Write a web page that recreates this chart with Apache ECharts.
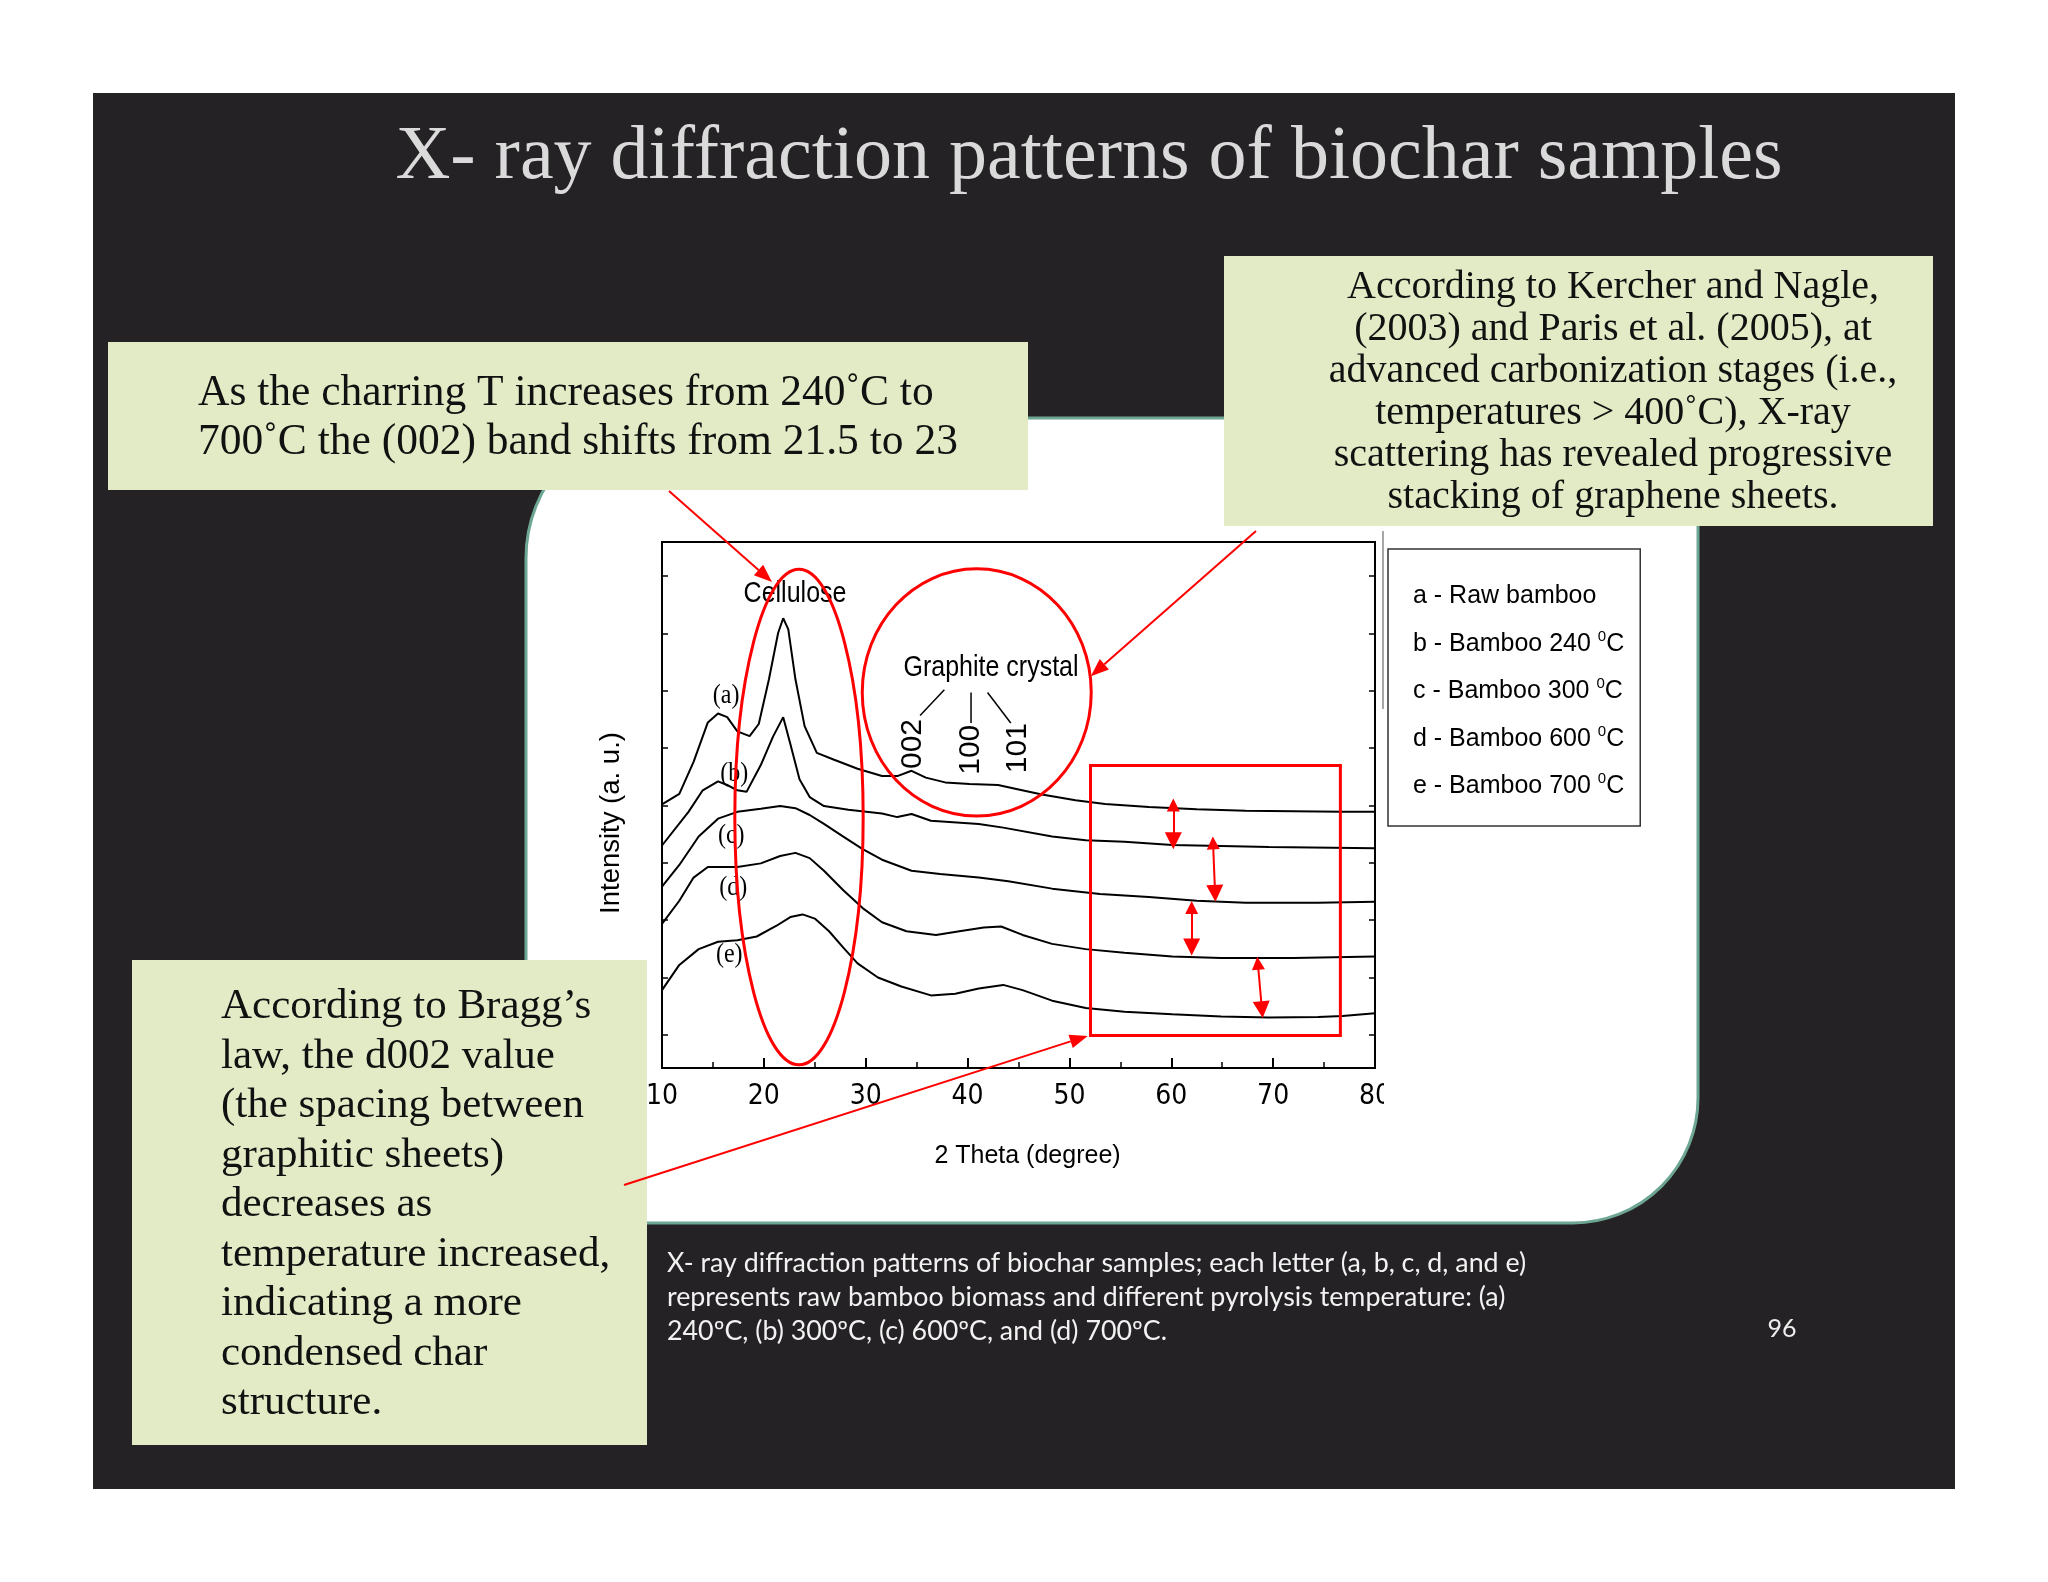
<!DOCTYPE html>
<html><head><meta charset="utf-8">
<script src="https://cdn.jsdelivr.net/npm/echarts@6.0.0/dist/echarts.min.js"></script>
<style>html,body{margin:0;padding:0;background:#fff}#c{width:2048px;height:1582px}</style>
</head><body><div id="c"></div>
<script>
// ---------- data ----------
const aTheta = [10,11.7,13.1,14.5,15.5,16.4,17.4,18.6,19.5,20.5,21.4,21.9,22.4,23.1,24.0,25.2,26.9,29.2,31.6,33.1,34.5,35.9,37.8,40.2,43.0,44.9,47.3,50.6,53.5,57.8,62.5,67.3,72.0,76.8,80];
const aInt   = [50.1,52.1,58.2,65.7,67.4,66.7,64.0,63.1,65.4,73.9,82.7,85.5,83.4,73.9,65.0,59.9,58.6,56.9,55.5,55.5,56.5,55.2,54.3,54.0,53.8,53.0,52.0,50.9,50.2,49.6,49.2,48.9,48.8,48.7,48.7];
const bTheta = [10,12.6,14.0,15.5,16.4,17.4,18.3,19.7,20.9,21.9,22.6,23.5,24.5,25.9,28.3,31.6,33.1,34.5,36.4,41.1,43.5,48.3,51.6,55.4,60.1,64.9,69.6,80];
const bInt   = [42.3,48.7,52.8,54.5,53.8,52.8,52.5,57.6,63.0,66.7,61.6,54.9,51.5,49.8,49.1,48.4,47.7,48.3,47.0,46.4,45.7,44.0,43.3,43.0,42.4,42.2,42.0,41.8];
const cTheta = [10,11.7,13.6,15.5,17.4,19.7,21.6,23.1,24.5,25.9,27.8,29.7,31.6,34.5,37.3,41.1,44.0,48.3,53.0,57.8,62.5,67.3,74.4,80];
const cInt   = [34.5,38.6,44.0,47.4,48.7,49.3,49.8,49.4,48.1,46.4,44.0,41.6,39.6,37.5,36.9,36.2,35.5,34.1,33.1,32.5,31.8,31.4,31.4,31.6];
const dTheta = [10,11.7,13.1,14.5,15.9,17.4,19.7,21.6,23.1,24.5,25.9,27.8,29.7,31.6,34.0,36.9,39.2,41.6,43.3,45.4,48.3,51.6,55.4,60.1,64.9,72.0,80];
const dInt   = [27.4,31.8,36.2,38.2,38.2,38.2,38.9,40.3,40.9,39.9,37.5,33.8,30.4,27.7,26.0,25.3,26.0,26.7,26.9,25.3,23.6,22.6,21.9,21.2,20.9,20.9,21.2];
const eTheta = [10,11.7,13.6,15.5,17.4,19.3,21.2,22.6,23.8,25.0,26.4,27.8,29.2,31.2,33.5,36.4,38.8,41.1,43.5,45.4,48.3,51.6,55.4,60.1,64.9,69.6,74.4,76.8,80];
const eInt   = [14.8,19.6,22.6,24.0,24.3,25.0,27.0,28.7,29.2,28.4,26.0,22.9,19.9,17.2,15.5,13.8,14.1,15.1,15.8,14.8,12.8,11.4,10.7,10.2,9.8,9.6,9.7,9.9,10.4];

const seriesNames = ['a','b','c','d','e'];
const curveLabels = ['(a)','(b)','(c)','(d)','(e)'];
const curveLabelPos = [[16.3,70.7],[17.1,55.9],[16.8,44.1],[17.0,34.2],[16.6,21.5]];
const legendLabels = ['a - Raw bamboo','b - Bamboo 240 ','c - Bamboo 300 ','d - Bamboo 600 ','e - Bamboo 700 '];
const xTickLabels = ['10','20','30','40','50','60','70','80'];
const yTickValues = [6.3,17.2,28.1,39.0,49.9,60.8,71.7,82.6,93.5];

// annotation anchors in data units
const celluloseEllipse = {cx:23.45, cy:47.7, rx:6.3, ry:47.1};
const graphiteEllipse = {cx:40.9, cy:71.4, rx:11.24, ry:23.5};
const redBox = [[52.07,57.5],[76.6,6.2]];
const doubleArrows = [[[60.2,50.0],[60.2,43.2]],[[64.1,42.8],[64.3,33.2]],[[62.0,30.5],[62.0,23.0]],[[68.5,19.9],[68.9,11.1]]];
const peakLabels = [{t:'002',x:34.6,y:61.6},{t:'100',x:40.3,y:60.5},{t:'101',x:44.9,y:60.8}];
const peakLeaders = [[[37.72,71.9],[35.34,67.0]],[[40.34,71.4],[40.34,65.6]],[[41.96,71.4],[44.24,65.6]]];

const titleText = 'X- ray diffraction patterns of biochar samples';
const boxTL = ['As the charring T increases from 240˚C to','700˚C the (002) band shifts from 21.5 to 23'];
const boxTR = ['According to Kercher and Nagle,','(2003) and Paris et al. (2005), at','advanced carbonization stages (i.e.,','temperatures > 400˚C), X-ray','scattering has revealed progressive','stacking of graphene sheets.'];
const boxBL = ['According to Bragg’s','law, the d002 value','(the spacing between','graphitic sheets)','decreases as','temperature increased,','indicating a more','condensed char','structure.'];
const caption = ['X- ray diffraction patterns of biochar samples; each letter (a, b, c, d, and e)','represents raw bamboo biomass and different pyrolysis temperature: (a)','240ºC, (b) 300ºC, (c) 600ºC, and (d) 700ºC.'];

// ---------- chart ----------
const NARROW = '"Liberation Sans Narrow","Arial Narrow","DejaVu Sans Condensed","Liberation Sans",sans-serif';
const SANS = '"Liberation Sans",Arial,sans-serif';
const SERIF = '"Liberation Serif","Times New Roman",serif';
const CAP = 'Lato,"Open Sans",sans-serif';

const curves = [[aTheta,aInt],[bTheta,bInt],[cTheta,cInt],[dTheta,dInt],[eTheta,eInt]];
const chart = echarts.init(document.getElementById('c'), null, {renderer:'canvas', width:2048, height:1582});

const yAxisBase = {
  type:'value', min:0, max:100,
  axisLine:{show:true, lineStyle:{color:'#000', width:2}},
  axisTick:{show:true, inside:true, length:6, customValues:yTickValues, lineStyle:{color:'#000', width:1.5}},
  axisLabel:{show:false}, splitLine:{show:false}
};

const option = {
  backgroundColor:'#ffffff',
  animation:false,
  grid:{left:662, top:542, width:713, height:526, show:true, borderColor:'#000', borderWidth:2, backgroundColor:'transparent'},
  xAxis:{
    type:'value', min:10, max:80, interval:10,
    axisLine:{lineStyle:{color:'#000', width:2}},
    axisTick:{inside:true, length:10, lineStyle:{color:'#000', width:2}},
    minorTick:{show:true, splitNumber:2, length:6, lineStyle:{color:'#000', width:1.5}},
    splitLine:{show:false}, minorSplitLine:{show:false},
    axisLabel:{color:'#000', fontSize:28, fontFamily:NARROW, margin:15,
      formatter:(v)=>xTickLabels[Math.round((v-10)/10)]},
    name:'2 Theta (degree)', nameLocation:'middle', nameGap:76,
    nameTextStyle:{color:'#000', fontSize:25, fontFamily:SANS, padding:[0,0,0,18]}
  },
  yAxis:[
    Object.assign({}, yAxisBase, {position:'left'}),
    Object.assign({}, yAxisBase, {position:'right'})
  ],
  legend:{
    orient:'vertical', left:1388, top:549, icon:'none', itemWidth:0, itemHeight:0, itemGap:20,
    padding:[35,16,27,20], borderColor:'#333', borderWidth:1.5, selectedMode:false,
    data:seriesNames,
    formatter:(n)=>{ const i=seriesNames.indexOf(n); return i===0 ? '{n|'+legendLabels[0]+'}' : '{n|'+legendLabels[i]+'}{s|0}{n|C}'; },
    textStyle:{color:'#000', fontFamily:SANS, rich:{
      n:{fontSize:25, fontFamily:SANS, color:'#000', lineHeight:30},
      s:{fontSize:15, fontFamily:SANS, color:'#000', lineHeight:18, verticalAlign:'top'}
    }}
  },
  series: curves.map((c,i)=>({
    name:seriesNames[i], type:'line', xAxisIndex:0, yAxisIndex:0,
    data:c[0].map((x,k)=>[x,c[1][k]]),
    showSymbol:false, symbol:'none', smooth:false, z:3,
    lineStyle:{color:'#000', width:2}, itemStyle:{color:'#000'}
  })).concat([{
    type:'lines', coordinateSystem:'cartesian2d', xAxisIndex:0, yAxisIndex:0, z:6,
    symbol:['triangle','triangle'], symbolSize:[13,17],
    lineStyle:{color:'#ff0000', width:2, opacity:1}, itemStyle:{color:'#ff0000'},
    data: doubleArrows.map(a=>({coords:a}))
  }])
};
chart.setOption(option);

// ---------- decorations / annotations ----------
const P = (x,y)=>chart.convertToPixel({seriesIndex:0},[x,y]);
const pxPerX = P(20,0)[0]-P(10,0)[0];
const pxPerY = P(10,0)[1]-P(10,10)[1];

function txt(text, x, y, size, family, fill, align, vAlign, extra, el){
  return Object.assign({type:'text', z:11, x, y, style:Object.assign({text, x:0, y:0, fontSize:size, fontFamily:family, fill,
    align, verticalAlign:vAlign, textAlign:align, textVerticalAlign:vAlign}, extra||{})}, el||{});
}
function arrow(x1,y1,x2,y2){
  const dx=x2-x1, dy=y2-y1, L=Math.hypot(dx,dy), ux=dx/L, uy=dy/L, hl=18, hw=7;
  const bx=x2-ux*hl, by=y2-uy*hl;
  return [
    {type:'line', z:20, shape:{x1,y1,x2:bx,y2:by}, style:{stroke:'#ff0000', lineWidth:2}},
    {type:'polygon', z:20, shape:{points:[[x2,y2],[bx-uy*hw,by+ux*hw],[bx+uy*hw,by-ux*hw]]}, style:{fill:'#ff0000'}}
  ];
}

const g = [];
// slide background and white panel
g.push({type:'rect', z:-10, shape:{x:93,y:93,width:1862,height:1396}, style:{fill:'#242224'}});
g.push({type:'rect', z:-9, shape:{x:526,y:418,width:1172,height:805,r:[140,0,125,0]}, style:{fill:'#ffffff', stroke:'#6da692', lineWidth:3}});
// title
g.push(txt(titleText, 1089, 158, 76, SERIF, '#dadada', 'center', 'middle'));
// green boxes
g.push({type:'rect', z:10, shape:{x:108,y:342,width:920,height:148}, style:{fill:'#e2ebc5'}});
g.push(txt(boxTL.join('\n'), 198, 369.5, 43.5, SERIF, '#111', 'left', 'top', {lineHeight:48.7}));
g.push({type:'rect', z:10, shape:{x:1224,y:256,width:709,height:270}, style:{fill:'#e2ebc5'}});
g.push(txt(boxTR.join('\n'), 1613, 266.5, 40, SERIF, '#111', 'center', 'top', {lineHeight:42}));
g.push({type:'rect', z:10, shape:{x:132,y:960,width:515,height:485}, style:{fill:'#e2ebc5'}});
g.push(txt(boxBL.join('\n'), 221, 982, 43, SERIF, '#111', 'left', 'top', {lineHeight:49.5}));
// caption and page number
g.push(txt(caption.join('\n'), 667, 1246, 26.8, CAP, '#f2f2f2', 'left', 'top', {lineHeight:34}));
g.push(txt('96', 1782, 1329, 25, CAP, '#eeeeee', 'center', 'middle'));
// grey separator line at image edge + clip of "80"
g.push({type:'line', z:12, shape:{x1:1383,y1:531,x2:1383,y2:709}, style:{stroke:'#8a8a8a', lineWidth:1.5}});
g.push({type:'rect', z:12, shape:{x:1384,y:1074,width:12,height:42}, style:{fill:'#ffffff'}});
// y axis title
g.push(txt('Intensity (a. u.)', 611, 823, 27.5, SANS, '#000', 'center', 'middle', {}, {rotation:Math.PI/2}));

// chart annotations
let p = P(celluloseEllipse.cx, celluloseEllipse.cy);
g.push({type:'ellipse', z:15, shape:{cx:p[0], cy:p[1], rx:celluloseEllipse.rx*pxPerX/10, ry:celluloseEllipse.ry*pxPerY/10}, style:{fill:'none', stroke:'#ff0000', lineWidth:3}});
p = P(graphiteEllipse.cx, graphiteEllipse.cy);
g.push({type:'ellipse', z:15, shape:{cx:p[0], cy:p[1], rx:graphiteEllipse.rx*pxPerX/10, ry:graphiteEllipse.ry*pxPerY/10}, style:{fill:'none', stroke:'#ff0000', lineWidth:3}});
const rb0 = P(redBox[0][0], redBox[0][1]), rb1 = P(redBox[1][0], redBox[1][1]);
g.push({type:'rect', z:15, shape:{x:rb0[0], y:rb0[1], width:rb1[0]-rb0[0], height:rb1[1]-rb0[1]}, style:{fill:'none', stroke:'#ff0000', lineWidth:3}});
p = P(23.06, 90.2);
g.push(txt('Cellulose', p[0], p[1], 25, SANS, '#000', 'center', 'middle', {}, {scaleY:1.18}));
p = P(42.3, 76.1);
g.push(txt('Graphite crystal', p[0], p[1], 25, SANS, '#000', 'center', 'middle', {}, {scaleY:1.18}));
peakLabels.forEach(o=>{
  const q = P(o.x, o.y);
  g.push(txt(o.t, q[0], q[1], 30, SANS, '#000', 'center', 'middle', {}, {rotation:Math.PI/2}));
});
peakLeaders.forEach(l=>{
  const a = P(l[0][0], l[0][1]), b = P(l[1][0], l[1][1]);
  g.push({type:'line', z:11, shape:{x1:a[0],y1:a[1],x2:b[0],y2:b[1]}, style:{stroke:'#000', lineWidth:1.5}});
});
curveLabels.forEach((t,i)=>{
  const q = P(curveLabelPos[i][0], curveLabelPos[i][1]);
  g.push(txt(t, q[0], q[1], 24, SERIF, '#000', 'center', 'middle', {}, {scaleY:1.15}));
});
// arrows from text boxes
let e = P(20.8, 92.4); arrow(669, 491, e[0], e[1]).forEach(x=>g.push(x));
e = P(52.1, 74.5); arrow(1256, 531, e[0], e[1]).forEach(x=>g.push(x));
e = P(51.8, 6.1); arrow(624, 1185, e[0], e[1]).forEach(x=>g.push(x));

chart.setOption({graphic:{elements:g}});
</script></body></html>
